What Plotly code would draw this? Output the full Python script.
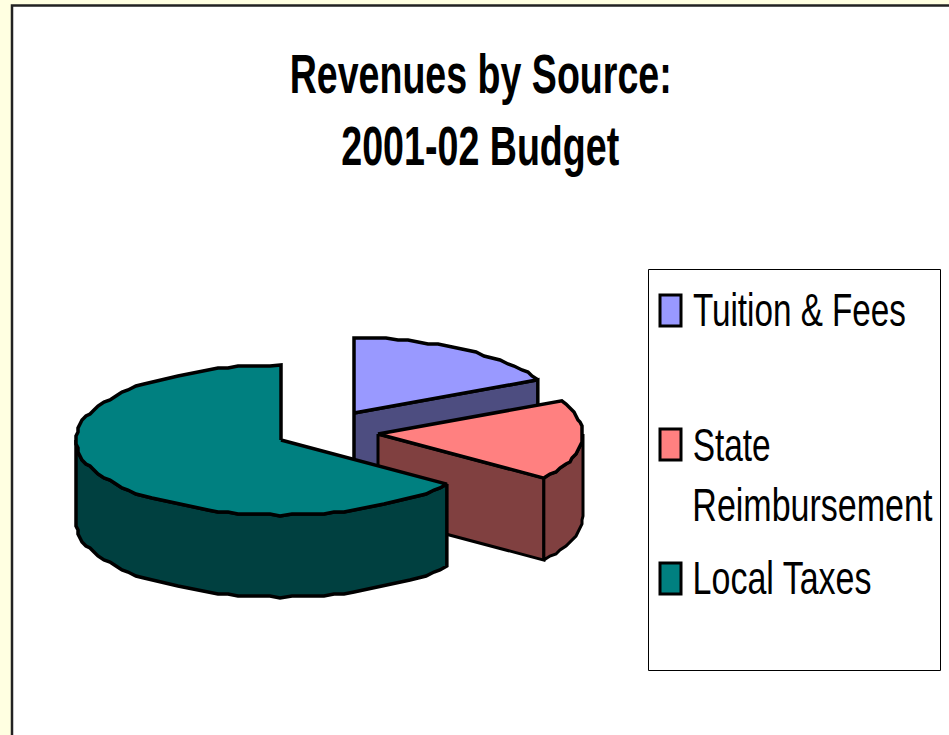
import math
import json
import plotly.graph_objects as go

categories = ["Tuition & Fees", "State Reimbursement", "Local Taxes"]
shares = [17.7, 17.3, 65.0]
legend_lines = [["Tuition & Fees"], ["State", "Reimbursement"], ["Local Taxes"]]
title_lines = ["Revenues by Source:", "2001-02 Budget"]

top_colors = ["#9999FF", "#FF8080", "#008080"]
wall_colors = ["#4D4D80", "#804040", "#004040"]
centers = [(354, 413), (378, 434), (281, 440)]
RX, RY, DEPTH = 205, 75, 82
SNAP = 2
STEP = 3
LINE = 3.5

# rendered width of each text line, in pixels
text_widths = {
    "Revenues by Source:": 382, "2001-02 Budget": 278,
    "Tuition & Fees": 213, "State": 78, "Reimbursement": 240, "Local Taxes": 179,
}


def rim(cx, cy, a0, a1):
    n = max(2, int(round((a1 - a0) / STEP)))
    pts = []
    for i in range(n + 1):
        t = math.radians(a0 + (a1 - a0) * i / n)
        x = cx + RX * math.sin(t)
        y = cy - RY * math.cos(t)
        if 0 < i < n:
            x = round(x / SNAP) * SNAP
            y = round(y / SNAP) * SNAP
        pts.append((x, y))
    return pts


def poly(pts, color, width=LINE):
    return go.Scatter(
        x=[p[0] for p in pts] + [pts[0][0]],
        y=[p[1] for p in pts] + [pts[0][1]],
        mode="lines",
        fill="toself",
        fillcolor=color,
        line=dict(color="black", width=width),
        hoverinfo="skip",
        showlegend=False,
    )


def drop(pts):
    return [(x, y + DEPTH) for x, y in pts]


spans = []
acc = 0.0
for s in shares:
    spans.append((acc, acc + s * 3.6))
    acc += s * 3.6

fig = go.Figure()

# Tuition & Fees: cut face, then top
a0, a1 = spans[0]
c = centers[0]
r = rim(c[0], c[1], a0, a1)
fig.add_trace(poly([c, r[-1], (r[-1][0], r[-1][1] + DEPTH), (c[0], c[1] + DEPTH)], wall_colors[0]))
fig.add_trace(poly([c] + r, top_colors[0]))

# State Reimbursement: cut face, outer wall, top
a0, a1 = spans[1]
c = centers[1]
r = rim(c[0], c[1], a0, a1)
fig.add_trace(poly([c, r[-1], (r[-1][0], r[-1][1] + DEPTH), (c[0], c[1] + DEPTH)], wall_colors[1], 3))
w = rim(c[0], c[1], 90, a1)
fig.add_trace(poly(w + drop(w)[::-1], wall_colors[1], 3))
fig.add_trace(poly([c] + r, top_colors[1]))

# Local Taxes: outer wall, top
a0, a1 = spans[2]
c = centers[2]
r = rim(c[0], c[1], a0, a1)
w = rim(c[0], c[1], a0, 270)
fig.add_trace(poly(w + drop(w)[::-1], wall_colors[2]))
fig.add_trace(poly([c] + r, top_colors[2]))

shapes = [
    dict(type="rect", x0=12, y0=5.5, x1=960, y1=745, fillcolor="white",
         line=dict(color="#222222", width=2.5), layer="below"),
    dict(type="rect", x0=648.5, y0=269.5, x1=940.5, y1=670.5, fillcolor="white",
         line=dict(color="black", width=1), layer="below"),
]
swatch_tops = [294, 428, 562]
for top, col in zip(swatch_tops, top_colors):
    shapes.append(dict(type="rect", x0=660, y0=top + 1, x1=681, y1=top + 32, fillcolor=col,
                       line=dict(color="black", width=3), layer="above"))

FONT = "Liberation Sans"


def label(text, left, y, size, bold=False):
    return dict(x=left + text_widths[text] / 2, y=y, xref="x", yref="y",
                text=f"<b>{text}</b>" if bold else text,
                showarrow=False, xanchor="center", yanchor="middle",
                font=dict(family=FONT, size=size, color="black"))


annotations = []
legend_ys = [[310], [445, 505], [578]]
for lines, ys in zip(legend_lines, legend_ys):
    for t, y in zip(lines, ys):
        annotations.append(label(t, 692.5, y, 46))
annotations.append(label(title_lines[0], 289, 74, 55, True))
annotations.append(label(title_lines[1], 341, 146, 55, True))

fig.update_layout(
    width=949, height=735,
    margin=dict(l=0, r=0, t=0, b=0),
    paper_bgcolor="#FFFFE1",
    plot_bgcolor="rgba(0,0,0,0)",
    xaxis=dict(range=[0, 949], visible=False, fixedrange=True),
    yaxis=dict(range=[735, 0], visible=False, fixedrange=True),
    shapes=shapes,
    annotations=annotations,
    showlegend=False,
)

# No condensed face is installed, so the real text is fitted to its measured width.
post = """
document.documentElement.style.margin='0';
document.body.style.margin='0';
var W = %s;
document.querySelectorAll('.annotation-text').forEach(function(t){
  var w = W[t.textContent];
  if (w) {
    t.setAttribute('textLength', w);
    t.setAttribute('lengthAdjust', 'spacingAndGlyphs');
    var g = t.closest('.annotation');
    if (g) {
      g.querySelectorAll('rect').forEach(function(b){
        var x = parseFloat(b.getAttribute('x')) || 0, ow = parseFloat(b.getAttribute('width')) || 0;
        b.setAttribute('x', x + (ow - w) / 2);
        b.setAttribute('width', w);
      });
    }
  }
});
""" % json.dumps(text_widths)
fig.write_html("out.html", config=dict(displayModeBar=False), post_script=post)
